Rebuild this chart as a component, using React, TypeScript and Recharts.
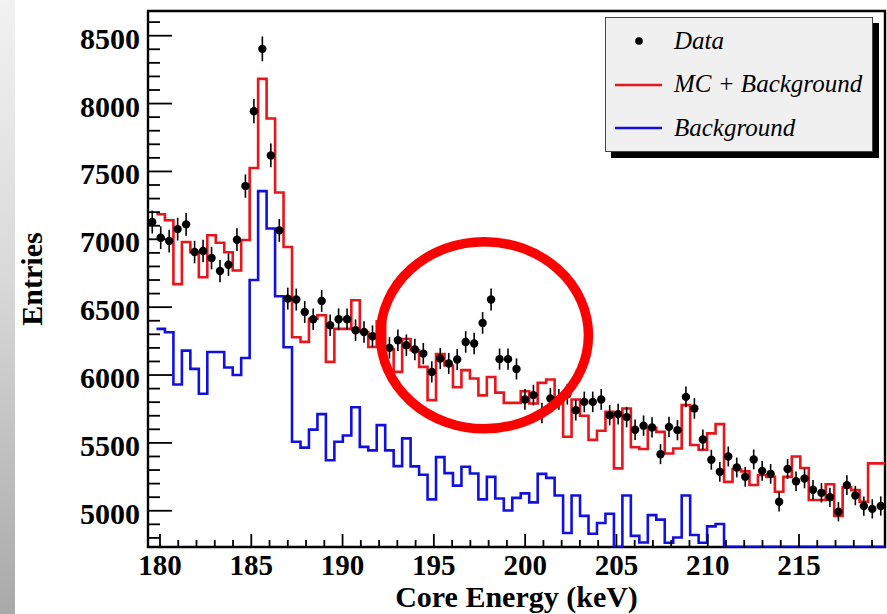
import React from 'react';
import { ComposedChart, Line, Scatter, ErrorBar, XAxis, YAxis, ReferenceArea, ReferenceDot, Legend, Label } from 'recharts';

// axis ranges (keV / entries)
const X_MIN = 179.343;
const X_MAX = 219.71;
const Y_MIN = 4733;
const Y_MAX = 8682;

const X_TICKS = [180, 181, 182, 183, 184, 185, 186, 187, 188, 189, 190, 191, 192, 193, 194, 195, 196, 197, 198, 199,
  200, 201, 202, 203, 204, 205, 206, 207, 208, 209, 210, 211, 212, 213, 214, 215, 216, 217, 218, 219];
const X_LABELS = [180, 185, 190, 195, 200, 205, 210, 215];
const Y_TICKS = [4800, 4900, 5000, 5100, 5200, 5300, 5400, 5500, 5600, 5700, 5800, 5900, 6000, 6100, 6200, 6300,
  6400, 6500, 6600, 6700, 6800, 6900, 7000, 7100, 7200, 7300, 7400, 7500, 7600, 7700, 7800, 7900, 8000, 8100,
  8200, 8300, 8400, 8500, 8600];
const Y_LABELS = [5000, 5500, 6000, 6500, 7000, 7500, 8000, 8500];

// bin contents, one per bin from left to right
const DATA = [
  7127, 7012, 6987, 7075, 7110, 6906, 6914, 6862, 6766, 6813,
  6997, 7392, 7944, 8403, 7618, 7066, 6563, 6556, 6465, 6411,
  6546, 6367, 6411, 6411, 6330, 6317, 6286, 6256, 6200, 6256,
  6220, 6188, 6158, 6023, 6122, 6085, 6114, 6244, 6232, 6384,
  6556, 6117, 6117, 6045, 5820, 5852, 5721, 5827, 5820, 5859,
  5741, 5802, 5802, 5820, 5704, 5712, 5690, 5597, 5627, 5614,
  5417, 5618, 5594, 5839, 5754, 5525, 5376, 5287, 5400, 5319,
  5250, 5378, 5294, 5272, 5066, 5308, 5217, 5238, 5155, 5132,
  5099, 4993, 5189, 5112, 5035, 5014, 5035,
];

const MC_BKG = [
  null, 7185, 7140, 6670, 6980, 6905, 6720, 7030, 6975, 6905,
  6770, 6995, 7525, 8182, 7890, 7345, 6943, 6278, 6244, 6415,
  6440, 6097, 6340, 6340, 6551, 6317, 6207, 6395, 6190, 6023,
  6265, 6183, 6060, 5815, 6155, 6070, 5910, 6036, 5974, 5850,
  5985, 5870, 5795, 5795, 5880, 5790, 5942, 5967, 5820, 5545,
  5820, 5700, 5522, 5589, 5730, 5312, 5753, 5468, 5455, 5612,
  5581, 5422, 5459, 5778, 5484, 5450, 5570, 5638, 5213, 5305,
  5290, 5190, 5263, 5250, 5140, 5250, 5400, 5315, 5079, 5079,
  5195, 4962, 5172, 5152, 5066, 5349, 5349,
];

const BKG = [
  null, 6340, 6315, 5930, 6180, 6045, 5862, 6170, 6170, 6055,
  6000, 6125, 6700, 7355, 7080, 6580, 6205, 5508, 5465, 5598,
  5712, 5372, 5508, 5555, 5763, 5471, 5445, 5631, 5445, 5329,
  5533, 5327, 5265, 5084, 5395, 5277, 5185, 5324, 5275, 5084,
  5250, 5090, 5002, 5095, 5128, 5062, 5272, 5242, 5112, 4836,
  5112, 4962, 4831, 4910, 4978, 4735, 5112, 4815, 4766, 4968,
  4935, 4764, 4803, 5112, 4821, 4764, 4885, 4902, 4735, 4735,
  4735, 4735, 4735, 4735, 4735, 4735, 4735, 4735, 4735, 4735,
  4735, 4735, 4735, 4735, 4735, 4735, 4735,
];

// highlighted region (centre in data units)
const CIRCLE_X = 197.77;
const CIRCLE_Y = 6293;

const BIN_W = (X_MAX - X_MIN) / DATA.length;

// step outlines: one point per left bin edge, last edge repeats the last bin
const histRows = Array.from({ length: DATA.length + 1 }, (_, k) => {
  const i = Math.min(k, DATA.length - 1);
  return { x: X_MIN + k * BIN_W, mc: MC_BKG[i], bg: BKG[i] };
});

const pointRows = DATA.map((v, i) => ({
  x: X_MIN + (i + 0.5) * BIN_W,
  y: v,
  err: Math.sqrt(v), // poisson
}));

const SERIF = '"Liberation Serif", "DejaVu Serif", serif';

function XTick(props: any) {
  const { x, y, payload } = props;
  const major = X_LABELS.includes(payload.value);
  return (
    <g>
      <line x1={x} x2={x} y1={y} y2={y - (major ? 13 : 7)} stroke="#000" strokeWidth={1.8} />
      {major && (
        <text x={x} y={y + 28} textAnchor="middle" fill="#000"
          style={{ fontFamily: SERIF, fontWeight: 'bold', fontSize: 29 }}>
          {payload.value}
        </text>
      )}
    </g>
  );
}

function YTick(props: any) {
  const { x, y, payload } = props;
  const major = Y_LABELS.includes(payload.value);
  return (
    <g>
      <line x1={x} x2={x + (major ? 24 : 12)} y1={y} y2={y} stroke="#000" strokeWidth={1.8} />
      {major && (
        <text x={x - 8} y={y + 13} textAnchor="end" fill="#000"
          style={{ fontFamily: SERIF, fontWeight: 'bold', fontSize: 30 }}>
          {payload.value}
        </text>
      )}
    </g>
  );
}

function LegendBox() {
  const txt = { fontFamily: SERIF, fontStyle: 'italic', fontSize: 25, fill: '#000' } as const;
  return (
    <div style={{ width: 268, height: 135, background: '#f0f0f0', border: '1px solid #444',
      boxSizing: 'border-box', boxShadow: '6px 6px 0 #000' }}>
      <svg width={266} height={133} style={{ display: 'block' }}>
        <circle cx={33} cy={23} r={3.8} fill="#000" />
        <text x={68} y={31} style={txt}>Data</text>
        <line x1={9} x2={56} y1={67} y2={67} stroke="#e8151b" strokeWidth={2.6} />
        <text x={68} y={74} style={txt}>MC + Background</text>
        <line x1={9} x2={56} y1={110} y2={110} stroke="#1010e0" strokeWidth={2.6} />
        <text x={68} y={118} style={txt}>Background</text>
      </svg>
    </div>
  );
}

export default function App() {
  return (
    <div style={{ position: 'absolute', left: 0, top: 0, width: 887, height: 614, background: '#fff', overflow: 'hidden' }}>
      <div style={{ position: 'absolute', left: 0, top: 0, width: 15, height: 614,
        background: 'linear-gradient(to bottom, #f2f2f2 0%, #d9d9d9 45%, #a9a9a9 100%)' }} />
      <ComposedChart width={887} height={614} margin={{ top: 11, right: 2, bottom: 0, left: 0 }}>
        <XAxis type="number" dataKey="x" domain={[X_MIN, X_MAX]} allowDataOverflow ticks={X_TICKS}
          interval={0} height={67} tickSize={0} tickMargin={0} axisLine={false} tickLine={false} tick={XTick}>
          <Label content={(p: any) => (
            <text x={p.viewBox.x + p.viewBox.width / 2} y={p.viewBox.y + 60} textAnchor="middle" fill="#000"
              style={{ fontFamily: SERIF, fontWeight: 'bold', fontSize: 30 }}>
              Core Energy (keV)
            </text>
          )} />
        </XAxis>
        <YAxis type="number" domain={[Y_MIN, Y_MAX]} allowDataOverflow ticks={Y_TICKS} interval={0}
          width={148} tickSize={0} tickMargin={0} axisLine={false} tickLine={false} tick={YTick}>
          <Label content={(p: any) => {
            const cy = p.viewBox.y + p.viewBox.height / 2;
            return (
              <text x={41.5} y={cy} transform={`rotate(-90, 41.5, ${cy})`} textAnchor="middle" fill="#000"
                style={{ fontFamily: SERIF, fontWeight: 'bold', fontSize: 30 }}>
                Entries
              </text>
            );
          }} />
        </YAxis>
        <ReferenceArea x1={X_MIN} x2={X_MAX} y1={Y_MIN} y2={Y_MAX} fill="none" stroke="#000"
          strokeWidth={2.4} ifOverflow="visible" />
        <Line data={histRows} dataKey="bg" name="Background" type="stepAfter" stroke="#1010e0"
          strokeWidth={2.6} dot={false} activeDot={false} isAnimationActive={false} />
        <Line data={histRows} dataKey="mc" name="MC + Background" type="stepAfter" stroke="#e8151b"
          strokeWidth={2.6} dot={false} activeDot={false} isAnimationActive={false} />
        <Scatter data={pointRows} dataKey="y" name="Data" isAnimationActive={false}
          shape={(p: any) => <circle cx={p.cx} cy={p.cy} r={4.2} fill="#000" />}>
          <ErrorBar dataKey="err" direction="y" width={0} stroke="#000" strokeWidth={1.6} />
        </Scatter>
        <ReferenceDot x={CIRCLE_X} y={CIRCLE_Y} r={0} ifOverflow="visible"
          shape={(p: any) => <ellipse cx={p.cx} cy={p.cy} rx={104} ry={93.5} fill="none" stroke="#ff0000" strokeWidth={9.5} />} />
        <Legend layout="vertical" align="center" verticalAlign="middle" content={LegendBox}
          wrapperStyle={{ left: 605, top: 17, width: 268, height: 135 }} />
      </ComposedChart>
    </div>
  );
}
